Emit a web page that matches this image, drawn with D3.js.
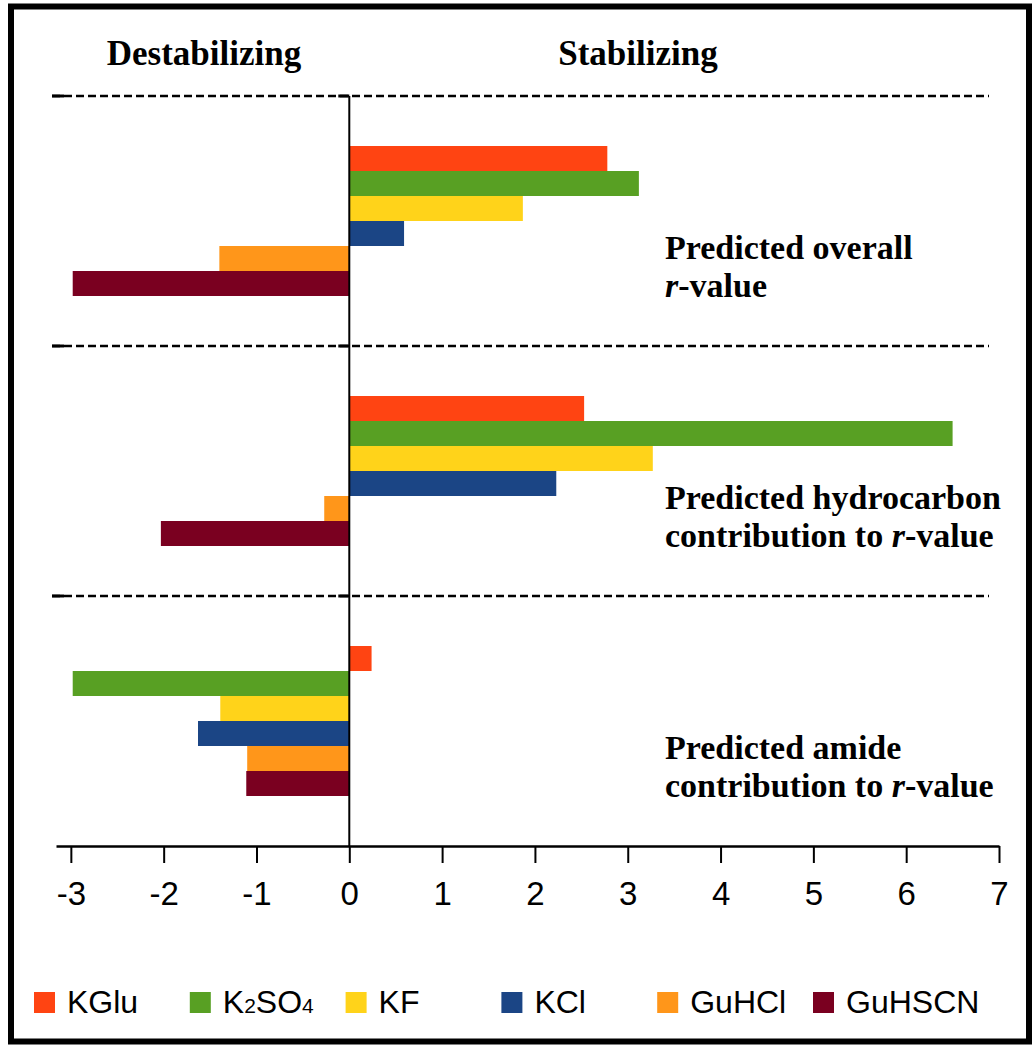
<!DOCTYPE html>
<html>
<head>
<meta charset="utf-8">
<title>Predicted r-values</title>
<script src="https://cdn.jsdelivr.net/npm/d3@7"></script>
<style>
  body { margin: 0; background: #fff; }
  svg { display: block; }
</style>
</head>
<body>
<div id="chart"></div>
<script>
// r-value bar chart - three groups of salts

const salts = ["KGlu", "K2SO4", "KF", "KCl", "GuHCl", "GuHSCN"];
const groups = ["overall", "hydrocarbon", "amide"];

// values, same order as salts
const overallValues = [2.78, 3.12, 1.87, 0.59, -1.40, -2.98];
const hydrocarbonValues = [2.53, 6.50, 3.27, 2.23, -0.27, -2.03];
const amideValues = [0.24, -2.98, -1.39, -1.63, -1.10, -1.11];

const groupLabels = [
  ["Predicted overall", "r|-value"],
  ["Predicted hydrocarbon", "contribution to |r|-value"],
  ["Predicted amide", "contribution to |r|-value"]
];
const xTicks = [-3, -2, -1, 0, 1, 2, 3, 4, 5, 6, 7];
const saltColors = ["#ff4412", "#58a023", "#ffd31a", "#1b4585", "#ff961a", "#7a0020"];

const valuesByGroup = [overallValues, hydrocarbonValues, amideValues];

const width = 1034;
const height = 1050;

const svg = d3.select("#chart")
  .append("svg")
  .attr("width", width)
  .attr("height", height);

// frame around the whole figure
svg.append("rect")
  .attr("x", 11)
  .attr("y", 6.5)
  .attr("width", 1018)
  .attr("height", 1035)
  .attr("fill", "none")
  .attr("stroke", "#000")
  .attr("stroke-width", 6);

// scales
const x = d3.scaleLinear()
  .domain([-3.16, 7])
  .range([56, 999]);

const y = d3.scaleBand()
  .domain(groups)
  .range([96, 846])
  .paddingInner(0.4)
  .paddingOuter(0.2);

const ySalt = d3.scaleBand()
  .domain(salts)
  .range([0, y.bandwidth()]);

const color = d3.scaleOrdinal()
  .domain(salts)
  .range(saltColors);

// headers
const serif = "'Liberation Serif', 'Times New Roman', serif";
svg.append("text")
  .attr("x", 204)
  .attr("y", 65)
  .attr("text-anchor", "middle")
  .attr("font-family", serif)
  .attr("font-weight", "bold")
  .attr("font-size", 35)
  .text("Destabilizing");

svg.append("text")
  .attr("x", 638)
  .attr("y", 65)
  .attr("text-anchor", "middle")
  .attr("font-family", serif)
  .attr("font-weight", "bold")
  .attr("font-size", 35)
  .text("Stabilizing");

// dashed separators at the top of each group
const step = y.step();
groups.forEach(g => {
  const sy = y(g) - step * 0.2;
  svg.append("line")
    .attr("x1", 52)
    .attr("x2", 989)
    .attr("y1", sy)
    .attr("y2", sy)
    .attr("stroke", "#000")
    .attr("stroke-width", 2.5)
    .attr("stroke-dasharray", "8,4");
  // little solid marks (start of line, tick on the zero line)
  svg.append("line")
    .attr("x1", 52).attr("x2", 64)
    .attr("y1", sy).attr("y2", sy)
    .attr("stroke", "#000")
    .attr("stroke-width", 3);
  svg.append("line")
    .attr("x1", x(0) - 11).attr("x2", x(0))
    .attr("y1", sy).attr("y2", sy)
    .attr("stroke", "#000")
    .attr("stroke-width", 3);
});

// bars
groups.forEach((g, gi) => {
  const vals = valuesByGroup[gi];
  svg.append("g")
    .selectAll("rect")
    .data(salts.map((s, i) => ({ salt: s, value: vals[i] })))
    .enter()
    .append("rect")
    .attr("x", d => x(Math.min(0, d.value)))
    .attr("y", d => y(g) + ySalt(d.salt))
    .attr("width", d => Math.abs(x(d.value) - x(0)))
    .attr("height", ySalt.bandwidth())
    .attr("fill", d => color(d.salt));
});

// group labels on the right, "r" in italics
groups.forEach((g, gi) => {
  const label = svg.append("text")
    .attr("font-family", serif)
    .attr("font-weight", "bold")
    .attr("font-size", 34);
  groupLabels[gi].forEach((line, li) => {
    const t = label.append("tspan")
      .attr("x", 665)
      .attr("y", y(g) + 113 + li * 38);
    const parts = line.split("|");
    parts.forEach(p => {
      t.append("tspan")
        .attr("font-style", p === "r" ? "italic" : "normal")
        .text(p);
    });
  });
});

// zero line
svg.append("line")
  .attr("x1", x(0))
  .attr("x2", x(0))
  .attr("y1", 96)
  .attr("y2", 846)
  .attr("stroke", "#000")
  .attr("stroke-width", 2);

// x axis
const xAxis = svg.append("g")
  .attr("transform", "translate(0,846)")
  .call(d3.axisBottom(x)
    .tickValues(xTicks)
    .tickFormat(d3.format("d"))
    .tickSize(17)
    .tickSizeOuter(0)
    .tickPadding(19));

xAxis.select(".domain")
  .attr("stroke-width", 2.5);
xAxis.selectAll(".tick line")
  .attr("stroke-width", 2);
xAxis.selectAll("text")
  .attr("font-family", "'Liberation Sans', Arial, sans-serif")
  .attr("font-size", 33)
  .attr("fill", "#000")
  .text(d => d < 0 ? "-" + Math.abs(d) : d);

// legend
const legendX = d3.scalePoint()
  .domain(salts)
  .range([34, 813]);

const legend = svg.append("g");
salts.forEach(s => {
  const item = legend.append("g")
    .attr("transform", `translate(${legendX(s)}, 992)`);
  item.append("rect")
    .attr("width", 21)
    .attr("height", 21)
    .attr("fill", color(s));
  const txt = item.append("text")
    .attr("x", 33)
    .attr("y", 21)
    .attr("font-family", "'Liberation Sans', Arial, sans-serif")
    .attr("font-size", 32)
    .attr("fill", "#000");
  if (s === "K2SO4") {
    txt.append("tspan").text("K");
    txt.append("tspan").attr("font-size", 21).text("2");
    txt.append("tspan").text("SO");
    txt.append("tspan").attr("font-size", 21).text("4");
  } else {
    txt.text(s);
  }
});
</script>
</body>
</html>
